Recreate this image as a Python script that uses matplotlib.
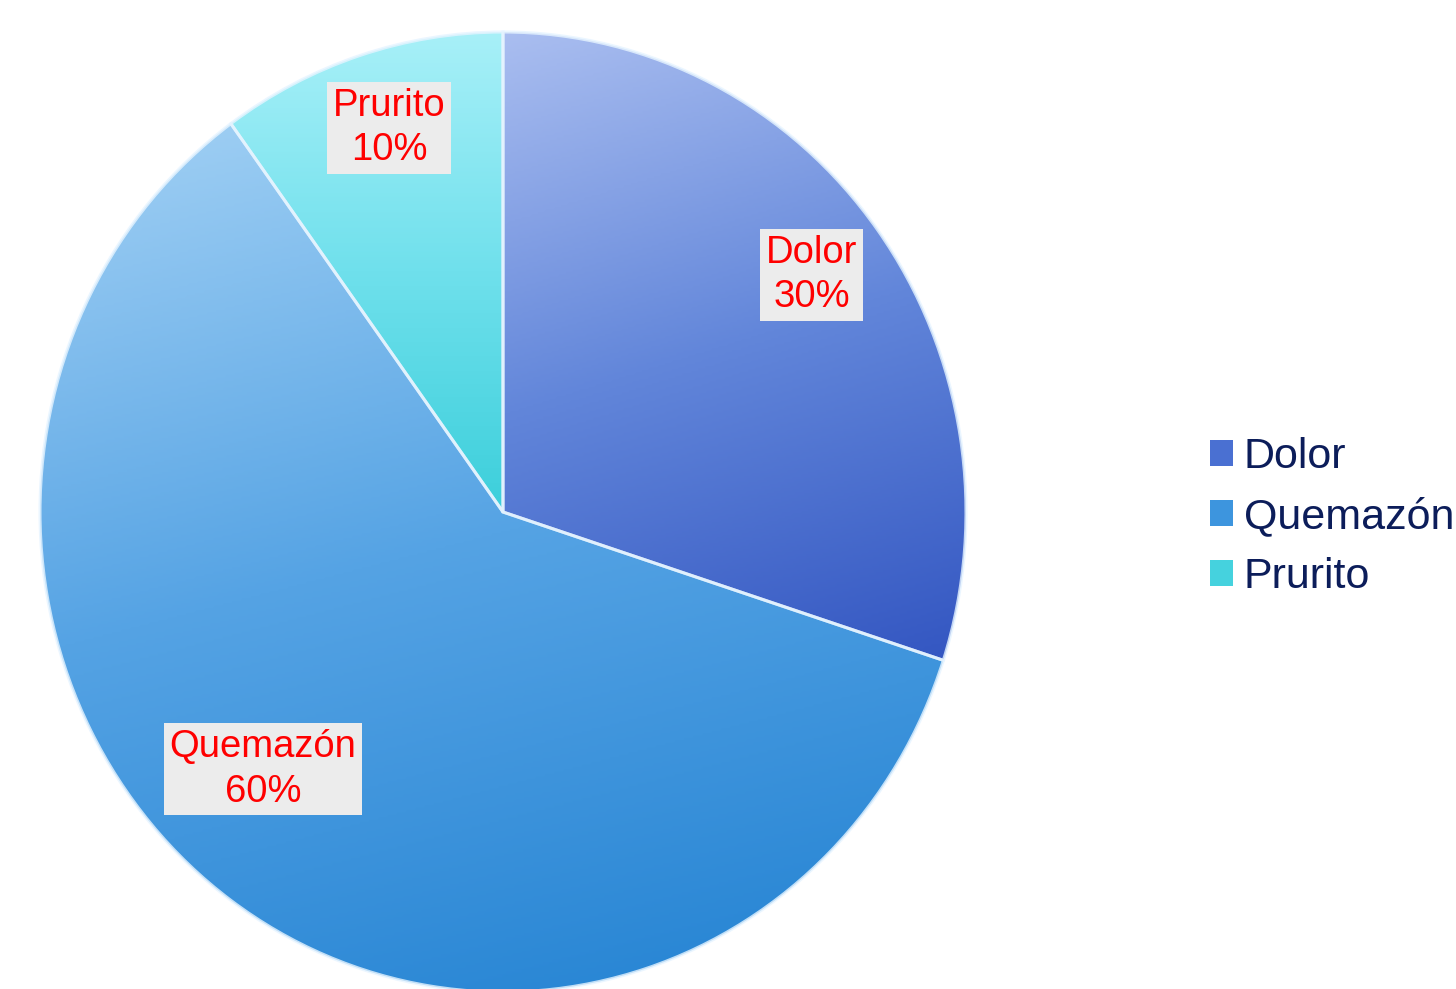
import matplotlib.pyplot as plt
import numpy as np
from matplotlib.colors import LinearSegmentedColormap
from matplotlib.patches import Patch, Wedge

labels = ["Dolor", "Quemazón", "Prurito"]
shares = [30, 60, 10]

# light -> mid -> dark colour of each slice and the direction of its gradient
grad_colors = [("#aabef0", "#6286da", "#3457c2"),
               ("#9ccdf3", "#55a3e4", "#2a87d5"),
               ("#a8f0f8", "#6fe0ec", "#3ccfdb")]
grad_dirs = [(0.3, -1.0), (0.25, -1.0), (0.0, -1.0)]
legend_colors = ["#4a70d2", "#3d95de", "#45d2de"]
label_dist = [0.84, 0.76, 0.865]
label_shift = [1.5, -7, -1.5]

fig = plt.figure(figsize=(14.56, 9.89), dpi=100)
ax = fig.add_axes([0, 0, 1, 1])

# pie is drawn slightly taller than wide, as in the original
cx, cy, R = 503, 477, 463
k = 480 / 463
wedges, _ = ax.pie(shares, startangle=90, counterclock=False, center=(cx, cy),
                   radius=R, frame=True,
                   wedgeprops=dict(facecolor="none", edgecolor="none"))

xs = np.linspace(cx - R, cx + R, 400)
ys = np.linspace(cy - R, cy + R, 400)
X, Y = np.meshgrid(xs, ys)

for w, cols, d in zip(wedges, grad_colors, grad_dirs):
    d = np.array(d) / np.hypot(*d)
    # extent of the wedge along the gradient direction
    verts = w.get_path().vertices
    proj = verts @ d
    t = ((X * d[0] + Y * d[1]) - proj.min()) / (proj.max() - proj.min())
    cmap = LinearSegmentedColormap.from_list("g", list(cols))
    im = ax.imshow(np.clip(t, 0, 1), cmap=cmap, origin="lower",
                   extent=(cx - R, cx + R, cy - R, cy + R),
                   interpolation="bilinear", zorder=1)
    im.set_clip_path(w)
    edge = Wedge((cx, cy), R, w.theta1, w.theta2, facecolor="none",
                 edgecolor="#e6f4ff", linewidth=2.2, alpha=0.8, zorder=2)
    ax.add_patch(edge)

for w, lab, pct, dist, sh in zip(wedges, labels, shares, label_dist, label_shift):
    ang = np.deg2rad((w.theta1 + w.theta2) / 2 + sh)
    x = cx + dist * R * np.cos(ang)
    y = cy + dist * R * np.sin(ang) / k
    ax.text(x, y, f"{lab}\n{pct}%", ha="center", va="center", color="#ff0000",
            fontsize=27.5, family="Liberation Sans", linespacing=1.3, zorder=5,
            bbox=dict(boxstyle="square,pad=0.15", facecolor="#ececec",
                      edgecolor="none"))

handles = [Patch(facecolor=c, edgecolor="none") for c in legend_colors]
ax.legend(handles, labels, loc="center left", bbox_to_anchor=(1188 / 1456, 1 - 517 / 989),
          frameon=False, prop=dict(family="Liberation Sans", size=31),
          labelcolor="#0c1d5a", handlelength=0.55, handleheight=0.55,
          handletextpad=0.25, labelspacing=0.47, borderpad=0)

ax.set_aspect("auto")
ax.set_xlim(0, 1456)
ax.set_ylim(cy - 477 / k, cy + 512 / k)
ax.axis("off")

plt.savefig("out.png", dpi=100)
